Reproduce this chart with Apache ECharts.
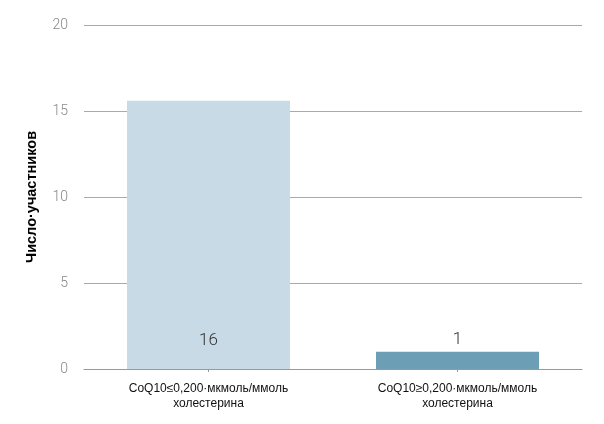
<!DOCTYPE html>
<html><head><meta charset="utf-8">
<script src="https://cdn.jsdelivr.net/npm/echarts@6/dist/echarts.min.js"></script>
<style>html,body{margin:0;padding:0;background:#fff}#c{width:604px;height:424px}</style>
</head><body><div id="c"></div>
<script>
const categories = ['CoQ10≤0,200·мкмоль/ммоль\nхолестерина', 'CoQ10≥0,200·мкмоль/ммоль\nхолестерина'];
const values = [15.6, 1];
const barColors = ['#c7dae5', '#6c9fb6'];
const yTicks = [0, 5, 10, 15, 20];
const yTitle = 'Число·участников';

const chart = echarts.init(document.getElementById('c'), null, {renderer: 'canvas'});
chart.setOption({
  animation: false,
  grid: {left: 84, right: 22, top: 25, bottom: 55},
  xAxis: {
    type: 'category', data: categories,
    axisLine: {show: true, lineStyle: {color: '#999', width: 1}},
    axisTick: {show: true, alignWithLabel: true, length: 3, lineStyle: {color: '#999'}},
    axisLabel: {color: '#111', fontSize: 12, fontFamily: 'Liberation Sans', lineHeight: 15, margin: 12}
  },
  yAxis: {
    type: 'value', min: yTicks[0], max: yTicks[yTicks.length - 1], interval: 5,
    name: yTitle, nameLocation: 'middle', nameGap: 45, nameRotate: 90,
    nameTextStyle: {color: '#000', fontSize: 14.5, fontWeight: 'bold', fontFamily: 'Liberation Sans'},
    axisLine: {show: false}, axisTick: {show: false},
    axisLabel: {color: '#888', fontSize: 14, fontFamily: 'Roboto', fontWeight: 300, margin: 16},
    splitLine: {lineStyle: {color: '#aaa', width: 1}}
  },
  series: [{
    type: 'bar', barWidth: 163,
    data: values.map((v, i) => ({
      value: v,
      itemStyle: {color: barColors[i]},
      label: i === 0
        ? {position: 'insideBottom', distance: 20}
        : {position: 'top', distance: 4}
    })),
    label: {
      show: true, color: '#333', fontSize: 17, fontFamily: 'Roboto', fontWeight: 300,
      formatter: p => String(Math.round(p.value))
    }
  }]
});
</script></body></html>
